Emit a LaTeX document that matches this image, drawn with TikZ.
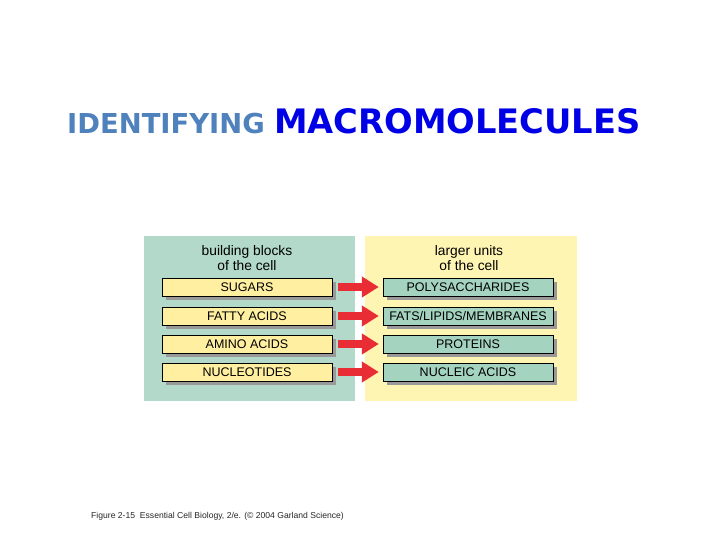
\documentclass[tikz,border=0pt]{standalone}
\usepackage{fontspec}
\setmainfont{Liberation Sans}
\newfontfamily\titlefont{DejaVu Sans}
\usetikzlibrary{arrows.meta,shadows}

\definecolor{idblue}{RGB}{79,129,189}
\definecolor{macroblue}{RGB}{0,0,230}
\definecolor{leftbg}{RGB}{178,217,202}
\definecolor{rightbg}{RGB}{255,245,178}
\definecolor{yellowbox}{RGB}{255,239,160}
\definecolor{tealbox}{RGB}{164,211,192}
\definecolor{arrowred}{RGB}{232,46,52}

\begin{document}
\begin{tikzpicture}[x=1pt,y=-1pt,
  unit/.style={draw,thin,minimum width=170pt,minimum height=18pt,inner sep=0pt,
    font=\fontsize{12.5}{14}\selectfont,
    drop shadow={shadow xshift=3.5pt,shadow yshift=-3.5pt,fill=black!40,opacity=1}},
  small/.style={unit,fill=yellowbox},
  large/.style={unit,fill=tealbox},
  head/.style={align=center,font=\fontsize{13.8}{15}\selectfont},
  build/.style={arrowred,line width=8pt,shorten <=6pt,shorten >=4pt,
    -{Triangle[length=17pt,width=20pt]}}]
\useasboundingbox (0,0) rectangle (720,540);
\node[anchor=base west,inner sep=0pt,text=idblue,font=\titlefont\bfseries\fontsize{27.4}{30}\selectfont] (id) at (67,134) {IDENTIFYING};
\node[anchor=base west,inner sep=0pt,text=macroblue,font=\titlefont\bfseries\fontsize{33.7}{36}\selectfont] (macro) at (274,134) {MACROMOLECULES};
\fill[leftbg] (144,236) rectangle (355,401);
\fill[rightbg] (365,236) rectangle (577,401);
\node[head] (lh) at (247,258) {building blocks\\of the cell};
\node[head] (rh) at (469,258) {larger units\\of the cell};
\node[small] (s1) at (247,287) {SUGARS};
\node[small] (s2) at (247,316) {FATTY ACIDS};
\node[small] (s3) at (247,344) {AMINO ACIDS};
\node[small] (s4) at (247,372) {NUCLEOTIDES};
\node[large] (l1) at (468,287) {POLYSACCHARIDES};
\node[large] (l2) at (468,316) {FATS/LIPIDS/MEMBRANES};
\node[large] (l3) at (468,344) {PROTEINS};
\node[large] (l4) at (468,372) {NUCLEIC ACIDS};
\foreach \i in {1,...,4}
  \draw[build] (s\i.east) -- (l\i.west);
\node[anchor=west,inner sep=0pt,text=black!85,font=\fontsize{8.6}{10}\selectfont] (cap) at (91,516) {Figure 2-15\ \ Essential Cell Biology, 2/e. (\copyright\ 2004 Garland Science)};
\end{tikzpicture}
\end{document}
